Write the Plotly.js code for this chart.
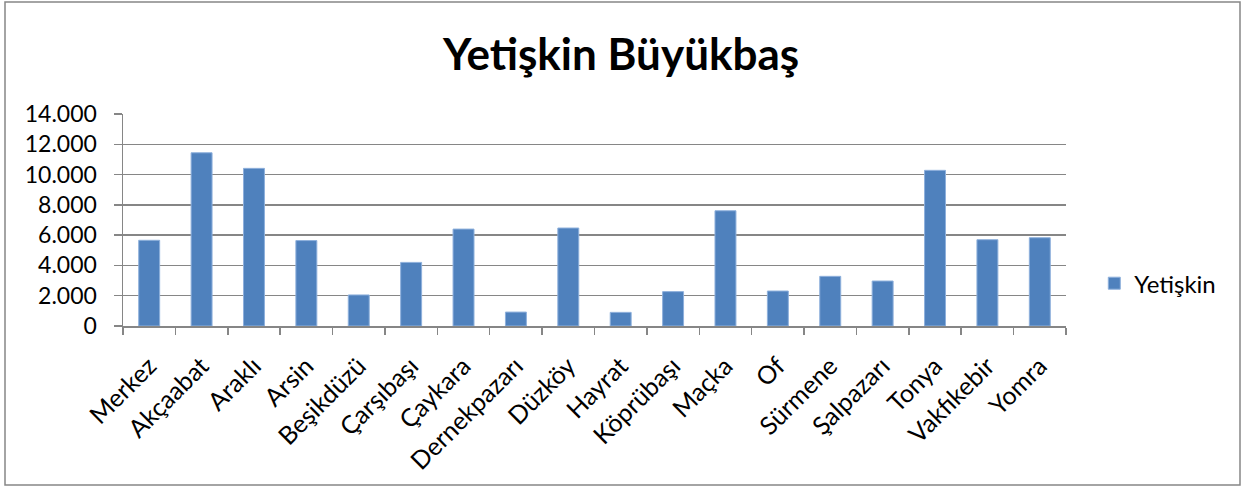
<!DOCTYPE html>
<html>
<head>
<meta charset="utf-8">
<script src="https://cdn.plot.ly/plotly-3.0.1.min.js"></script>
<style>
html,body{margin:0;padding:0;background:#fff;}
#chart{width:1242px;height:486px;}
</style>
</head>
<body>
<div id="chart"></div>
<script>
const chartTitle = "Yetişkin Büyükbaş";
const seriesName = "Yetişkin";
const categories = ["Merkez","Akçaabat","Araklı","Arsin","Beşikdüzü","Çarşıbaşı","Çaykara","Dernekpazarı","Düzköy","Hayrat","Köprübaşı","Maçka","Of","Sürmene","Şalpazarı","Tonya","Vakfıkebir","Yomra"];
const values = [5660, 11440, 10410, 5640, 2050, 4200, 6400, 920, 6470, 900, 2270, 7610, 2310, 3280, 2970, 10280, 5700, 5830];
const yTicks = [0, 2000, 4000, 6000, 8000, 10000, 12000, 14000];

const font = "Lato, 'Open Sans', sans-serif";
const trace = {
  type: "bar",
  x: categories,
  y: values,
  name: seriesName,
  marker: {color: "#4f81bd", line: {color: "#8eb0dc", width: 1}},
  hoverinfo: "x+y"
};

const layout = {
  width: 1242, height: 486,
  margin: {l: 123, r: 176, t: 114, b: 160},
  paper_bgcolor: "#ffffff",
  plot_bgcolor: "#ffffff",
  separators: ",.",
  bargap: 0.6,
  showlegend: true,
  title: {
    text: chartTitle,
    font: {family: font, size: 44, color: "#000000", weight: "bold"},
    x: 0.5, xref: "container", xanchor: "center",
    y: 0.888, yref: "container", yanchor: "middle"
  },
  font: {family: font, size: 22, color: "#000000"},
  xaxis: {
    type: "category",
    tickson: "boundaries",
    ticks: "outside", ticklen: 7, tickcolor: "#868686", tickwidth: 1.5,
    showline: true, linecolor: "#868686", linewidth: 1.5,
    showgrid: false,
    tickangle: -45,
    ticklabelstandoff: 14,
    tickfont: {family: font, size: 25, color: "#000000"},
    range: [-0.5, categories.length - 0.5]
  },
  yaxis: {
    range: [0, 14000],
    tickvals: yTicks,
    tickformat: ",d",
    separatethousands: true,
    ticks: "outside", ticklen: 8, tickcolor: "#868686", tickwidth: 1.5,
    showline: true, linecolor: "#868686", linewidth: 1.5,
    showgrid: true, gridcolor: "#868686", gridwidth: 1.5,
    zeroline: false,
    tickfont: {family: font, size: 23, color: "#000000"},
    ticklabelstandoff: 12
  },
  legend: {
    x: 1.03, xanchor: "left",
    y: 0.2, yanchor: "middle",
    font: {family: font, size: 24, color: "#000000"},
    itemwidth: 30,
    bgcolor: "rgba(0,0,0,0)"
  },
  shapes: [{
    type: "rect", xref: "paper", yref: "paper",
    x0: -118/943, x1: 1117/943, y0: -159/212, y1: 324/212,
    line: {color: "#868686", width: 1.5}, fillcolor: "rgba(0,0,0,0)", layer: "below"
  }]
};

Plotly.newPlot("chart", [trace], layout, {displayModeBar: false, staticPlot: true});
</script>
</body>
</html>
